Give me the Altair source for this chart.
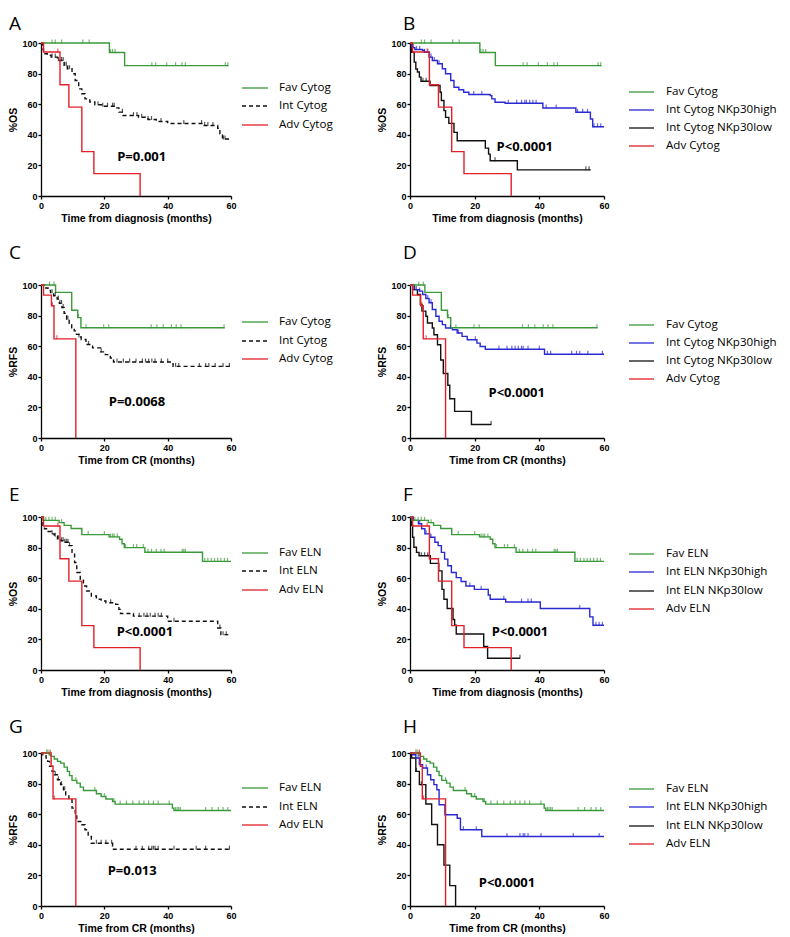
import altair as alt
import pandas as pd

# ---------------- data ----------------
# Overall survival, cytogenetic groups
FAV_CYT_OS_T = [0, 21.6, 26.4, 59.2]
FAV_CYT_OS_S = [100, 93.8, 85.2, 85.2]
FAV_CYT_OS_C = [3.5, 4.5, 6.5, 13.2, 15.2, 21.9, 22.6, 23.4, 35.0, 36.2, 39.7, 42.5, 44.5, 45.6, 58.2, 59.0]

ADV_OS_T = [0, 0.8, 6.0, 8.8, 12.9, 16.7, 31.3]
ADV_OS_S = [100, 94.1, 72.7, 58.1, 29.0, 14.6, 0]
ADV_OS_C = [5.3]

INT_CYT_OS_T = [0, 0.4, 0.8, 2.0, 3.2, 5.2, 7.3, 8.3, 9.8, 10.8, 11.9, 12.9, 13.9, 15.4, 17.0, 19.5,
                23.6, 24.6, 25.9, 30.8, 33.8, 36.4, 40.0, 51.2, 55.8, 56.5, 57.3, 60]
INT_CYT_OS_S = [100, 96, 93, 92, 90.8, 88.6, 85.4, 83.2, 79.9, 75.5, 70.0, 66.8, 63.5, 61.4, 59.6, 58.7,
                57.6, 54.8, 52.6, 51.5, 50.0, 48.7, 47.4, 46.1, 44.3, 40.6, 37.3, 37.3]
INT_CYT_OS_C = [3.5, 4.5, 5.5, 6.5, 7.0, 7.5, 8.0, 8.5, 9.0, 18.0, 19.5, 21.0, 22.6, 23.1, 25.7, 29.2,
                30.3, 31.8, 33.8, 34.9, 37.9, 45.1, 50.7, 51.7, 52.7, 54.3, 57.6, 58.1]

HIGH_CYT_OS_T = [0, 0.6, 1.5, 3.9, 4.4, 5.9, 6.9, 8.5, 10.0, 11.0, 12.6, 13.6, 15.1, 16.6, 18.2, 24.8,
                 25.3, 26.3, 29.4, 41.1, 51.3, 55.8, 56.5, 60]
HIGH_CYT_OS_S = [100, 97, 95.8, 95.2, 94, 90.8, 88.6, 86.4, 83.2, 79.9, 75.5, 71.1, 69.4, 67.8, 66.3, 65.6,
                 63.5, 61.3, 60.6, 57.5, 54.7, 50.3, 45.3, 45.3]
HIGH_CYT_OS_C = [1.0, 2.0, 3.0, 4.5, 5.5, 6.5, 7.5, 9.0, 19.7, 22.2, 30.4, 33.0, 34.5, 35.5, 36.0, 37.0,
                 38.0, 39.0, 42.1, 45.2, 51.8, 53.4, 54.9, 56.9, 58.0, 59.0]

LOW_CYT_OS_T = [0, 0.5, 1.3, 1.8, 2.3, 2.9, 3.4, 6.2, 9.3, 9.7, 10.5, 11.0, 12.0, 13.6, 14.6, 23.3,
                24.3, 24.8, 33.2, 55.9]
LOW_CYT_OS_S = [100, 94, 87.5, 83, 81, 77.7, 75, 72.2, 67.8, 62.4, 55.8, 51.4, 47.5, 41.6, 36.1, 31.3,
                27.4, 23, 17.1, 17.1]
LOW_CYT_OS_C = [4.0, 5.0, 26.3, 54.4, 55.4]

# Relapse-free survival, cytogenetic groups
FAV_CYT_RFS_T = [0, 4.6, 9.7, 11.6, 12.6, 58.0]
FAV_CYT_RFS_S = [100, 95.2, 83.5, 78.7, 72.1, 72.1]
FAV_CYT_RFS_C = [2.7, 4.1, 11.8, 14.2, 19.8, 21.4, 34.8, 36.6, 38.6, 41.2, 42.7, 44.2, 57.8]

ADV_CYT_RFS_T = [0, 0.8, 3.3, 4.1, 11.0]
ADV_CYT_RFS_S = [100, 93.4, 86.4, 64.8, 0]
ADV_CYT_RFS_C = [3.6, 5.0]

INT_CYT_RFS_T = [0, 1.5, 2.2, 3.0, 4.0, 5.1, 5.8, 6.6, 7.3, 8.1, 8.9, 9.7, 10.5, 11.2, 12.0, 12.7,
                 14.2, 16.3, 18.8, 20.3, 21.9, 22.9, 41.7, 60]
INT_CYT_RFS_S = [100, 98, 96.5, 95, 93, 90.8, 88, 85.3, 81.5, 77.6, 75, 72.1, 70, 67.7, 66, 64.4,
                 61.1, 58.9, 56.3, 54.5, 52.3, 49.7, 46.8, 46.8]
INT_CYT_RFS_C = [3.5, 4.5, 5.5, 6.0, 6.5, 7.0, 8.5, 12.0, 15.0, 19.0, 24.0, 26.0, 28.0, 30.0, 32.0,
                 33.0, 34.0, 35.0, 36.0, 38.0, 40.0, 42.5, 43.5, 50.0, 52.0, 53.0, 55.0, 57.5, 59.5]

HIGH_CYT_RFS_T = [0, 1.3, 2.9, 3.9, 4.9, 5.9, 6.9, 8.0, 9.0, 10.0, 11.0, 13.1, 14.6, 16.1, 17.7,
                  20.7, 21.7, 23.3, 41.6, 60]
HIGH_CYT_RFS_S = [100, 97, 96, 93.8, 91.2, 88.4, 84, 79.6, 76.3, 74.1, 71.9, 70.8, 68.6, 66.4, 64.2,
                  62, 59.8, 58, 54.7, 54.7]
HIGH_CYT_RFS_C = [2.0, 3.0, 5.5, 6.5, 12.5, 15.0, 20.2, 27.5, 30.0, 31.5, 32.5, 33.5, 34.5, 35.0,
                  36.5, 40.0, 42.5, 43.5, 50.0, 51.5, 52.5, 55.0, 59.5]

LOW_CYT_RFS_T = [0, 0.8, 2.3, 3.2, 3.7, 4.9, 5.4, 6.9, 7.4, 8.5, 9.5, 10.3, 11.7, 12.3, 13.8, 19.0, 25.1]
LOW_CYT_RFS_S = [100, 97, 93.8, 87.3, 82.9, 79.6, 75.2, 71.9, 67.5, 60.9, 51.0, 42.2, 34.5, 25.7,
                 17.4, 8.8, 8.8]
LOW_CYT_RFS_C = [1.5, 25.1]

# Overall survival, ELN groups
FAV_ELN_OS_T = [0, 0.6, 5.7, 7.3, 9.5, 12.9, 21.5, 24.8, 25.6, 26.3, 32.8, 51.0, 60]
FAV_ELN_OS_S = [100, 97.8, 96.3, 94.5, 92.5, 88.5, 87.0, 85.5, 82.5, 80.0, 77.0, 71.0, 71.0]
FAV_ELN_OS_C = [1.5, 2.5, 3.5, 4.5, 6.5, 14.9, 20.0, 22.0, 22.6, 23.1, 24.1, 26.7, 29.2, 30.2, 32.3,
                33.8, 34.9, 36.4, 37.9, 38.9, 44.6, 45.1, 45.6, 51.7, 52.7, 53.8, 54.8, 55.8, 56.8,
                57.9, 58.9]

INT_ELN_OS_T = [0, 0.6, 1.1, 2.0, 3.2, 4.2, 5.2, 6.2, 7.3, 8.8, 9.8, 10.6, 11.3, 12.4, 13.4, 14.4,
                15.9, 17.5, 19.0, 20.5, 23.6, 24.6, 25.1, 29.2, 40.0, 55.8, 56.8, 60]
INT_ELN_OS_S = [100, 94.5, 92.3, 90.5, 89.0, 87.5, 85.7, 84.5, 83.5, 81.3, 76.9, 70.3, 63.7, 59.3,
                54.9, 51.6, 48.4, 46.2, 45.1, 44.0, 42.9, 39.6, 36.9, 35.2, 31.9, 27.5, 23.1, 23.1]
INT_ELN_OS_C = [3.5, 4.5, 5.5, 6.5, 7.0, 7.5, 8.0, 8.5, 9.0, 22.0, 31.0, 32.5, 33.5, 34.5, 36.0,
                37.0, 38.0, 42.0, 56.5, 57.5, 58.5]

HIGH_ELN_OS_T = [0, 1.0, 2.6, 3.6, 4.6, 6.1, 7.7, 8.7, 9.7, 10.7, 11.7, 12.8, 14.3, 15.8, 17.3,
                 19.9, 24.2, 24.8, 29.6, 40.3, 55.6, 56.6, 60]
HIGH_ELN_OS_S = [100, 97.8, 95.6, 92.3, 89.0, 86.8, 83.5, 81.3, 76.9, 72.5, 68.1, 63.7, 60.4, 57.8,
                 54.9, 52.7, 49.0, 46.2, 44.4, 40.2, 34.7, 29.2, 29.2]
HIGH_ELN_OS_C = [3.0, 5.0, 6.5, 18.5, 22.0, 29.0, 34.5, 36.5, 37.5, 52.5, 57.5, 58.5, 59.5]

LOW_ELN_OS_T = [0, 0.5, 0.8, 1.2, 2.0, 2.8, 6.3, 8.9, 9.9, 10.5, 11.5, 13.3, 13.8, 14.3, 22.8, 24.0, 34.0]
LOW_ELN_OS_S = [100, 94.5, 86.8, 80.2, 76.9, 74.7, 69.7, 64.8, 52.7, 46.2, 40.2, 33.0, 29.2, 23.5,
                15.4, 7.7, 7.7]
LOW_ELN_OS_C = [3.5, 4.5, 5.5, 34.0]

# Relapse-free survival, ELN groups
FAV_ELN_RFS_T = [0, 2.6, 3.2, 4.2, 5.2, 6.2, 7.3, 8.3, 9.0, 9.8, 11.3, 12.4, 13.4, 17.5, 19.0, 20.5,
                 22.6, 23.4, 41.5, 42.0, 60]
FAV_ELN_RFS_S = [100, 98.9, 97.8, 96.1, 94.5, 93.4, 90.8, 88.0, 85.2, 82.1, 80.3, 77.7, 75.5, 73.4,
                 71.6, 69.9, 68.3, 66.6, 64.0, 62.4, 62.4]
FAV_ELN_RFS_C = [1.8, 2.2, 2.8, 11.0, 17.0, 20.0, 23.0, 25.0, 27.0, 29.0, 31.0, 32.5, 34.0, 35.5,
                 37.0, 40.5, 42.5, 43.0, 43.5, 44.0, 52.0, 54.0, 56.0, 57.5, 59.0]

ADV_ELN_RFS_T = [0, 3.2, 3.8, 11.0]
ADV_ELN_RFS_S = [100, 91.3, 70.0, 0]
ADV_ELN_RFS_C = [2.9, 4.2]

INT_ELN_RFS_T = [0, 0.6, 1.6, 2.1, 2.7, 3.5, 4.2, 5.2, 6.2, 7.1, 7.8, 8.8, 9.8, 10.8, 11.3, 12.9,
                 13.9, 14.9, 15.9, 22.6, 60]
INT_ELN_RFS_S = [100, 98.9, 96.7, 94.5, 91.3, 88.0, 85.8, 82.5, 79.3, 76.0, 72.7, 69.4, 64.0, 60.7,
                 55.2, 53.1, 49.8, 45.4, 41.0, 37.1, 37.1]
INT_ELN_RFS_C = [4.5, 5.5, 6.5, 7.5, 17.5, 19.0, 20.5, 22.3, 30.0, 32.0, 34.0, 35.0, 35.5, 36.0,
                 37.0, 42.0, 49.0, 52.0, 59.5]

HIGH_ELN_RFS_T = [0, 0.8, 1.8, 2.9, 3.9, 5.4, 6.4, 7.4, 8.3, 9.0, 10.8, 14.6, 15.6, 22.2, 60]
HIGH_ELN_RFS_S = [100, 98.9, 96.7, 92.4, 90.2, 85.8, 82.5, 79.3, 76.0, 66.2, 59.6, 57.4, 49.8, 45.4, 45.4]
HIGH_ELN_RFS_C = [2.5, 5.0, 16.5, 20.5, 30.0, 34.0, 35.0, 35.5, 36.5, 40.5, 50.5, 58.5]

LOW_ELN_RFS_T = [0, 0.5, 1.8, 2.9, 4.9, 6.7, 8.5, 10.5, 12.3, 14.1]
LOW_ELN_RFS_S = [100, 96.7, 88.0, 79.3, 66.7, 53.3, 40.0, 26.7, 13.3, 0]
LOW_ELN_RFS_C = [2.0, 3.5]

# ---------------- styling ----------------
GREEN, RED, BLUE, BLACK = "#3a9a3a", "#e2202a", "#2a2ad2", "#111111"
STYLE = {"fav": (GREEN, None), "int": (BLACK, [4, 3]), "high": (BLUE, None),
         "low": (BLACK, None), "adv": (RED, None)}

W_L, W_R, H = 190, 194, 153
X0_L, X0_R = 40, 409          # expected absolute left of plot areas (page px)
FONT_AX = "Liberation Sans"
FONT_TXT = "Open Sans"


def step_value(T, S, c):
    v = S[0]
    for t, s in zip(T, S):
        if t <= c:
            v = s
        else:
            break
    return v


def xenc(title):
    return alt.X("t:Q", scale=alt.Scale(domain=[0, 60], nice=False, zero=False),
                 axis=alt.Axis(title=title, values=[0, 20, 40, 60]))


def yenc(title):
    return alt.Y("s:Q", scale=alt.Scale(domain=[0, 100], nice=False),
                 axis=alt.Axis(title=title, values=[0, 20, 40, 60, 80, 100]))


def panel(letter, curves, legend, xtitle, ytitle, ptext, pxy, leg_y, right, off):
    W = W_R if right else W_L
    x0 = X0_R if right else X0_L
    ra, rb, tx = (628, 653, 665) if right else (241, 267, 278)
    layers = []
    for kind, T, S, C in curves:
        color, dash = STYLE[kind]
        kw = dict(interpolate="step-after", color=color, strokeWidth=1.4)
        if dash:
            kw["strokeDash"] = dash
        layers.append(alt.Chart(pd.DataFrame({"t": T, "s": S})).mark_line(**kw)
                      .encode(x=xenc(xtitle), y=yenc(ytitle)))
    for kind, T, S, C in curves:
        color, _ = STYLE[kind]
        cdf = pd.DataFrame({"t": C, "s": [step_value(T, S, c) for c in C]})
        layers.append(alt.Chart(cdf).mark_tick(orient="vertical", size=4, thickness=1.2,
                                               color=color, yOffset=-1.5)
                      .encode(x=xenc(xtitle), y=yenc(ytitle)))
    for (lab, kind), ly in zip(legend, leg_y):
        color, dash = STYLE[kind]
        ldf = pd.DataFrame({"label": [lab]})
        kw = dict(color=color, strokeWidth=1.3)
        if dash:
            kw["strokeDash"] = dash
        layers.append(alt.Chart(ldf).mark_rule(**kw).encode(
            x=alt.value(ra - x0), x2=alt.value(rb - x0), y=alt.value(ly)))
        layers.append(alt.Chart(ldf).mark_text(align="left", baseline="middle", font=FONT_TXT,
                                               fontSize=11.6, color="black").encode(
            x=alt.value(tx - x0), y=alt.value(ly), text="label:N"))
    pdf = pd.DataFrame({"t": [pxy[0]], "s": [pxy[1]], "label": [ptext]})
    layers.append(alt.Chart(pdf).mark_text(font=FONT_TXT, fontWeight="bold", fontSize=13,
                                           color="black")
                  .encode(x=xenc(xtitle), y=yenc(ytitle), text="label:N"))
    return alt.layer(*layers).properties(
        width=W, height=H,
        title=alt.TitleParams(letter, anchor="start", fontSize=19, font=FONT_TXT,
                              fontWeight="normal", color="black", offset=off,
                              dx=(25 if right else 0)))


DX = "Time from diagnosis (months)"
CR = "Time from CR (months)"
OFFS = [5, 18, 8, 12]

A = panel("A", [("int", INT_CYT_OS_T, INT_CYT_OS_S, INT_CYT_OS_C),
                ("fav", FAV_CYT_OS_T, FAV_CYT_OS_S, FAV_CYT_OS_C),
                ("adv", ADV_OS_T, ADV_OS_S, ADV_OS_C)],
          [("Fav Cytog", "fav"), ("Int Cytog", "int"), ("Adv Cytog", "adv")],
          DX, "%OS", "P=0.001", (31.8, 25.5), [45, 63, 82], False, OFFS[0])
B = panel("B", [("low", LOW_CYT_OS_T, LOW_CYT_OS_S, LOW_CYT_OS_C),
                ("high", HIGH_CYT_OS_T, HIGH_CYT_OS_S, HIGH_CYT_OS_C),
                ("fav", FAV_CYT_OS_T, FAV_CYT_OS_S, FAV_CYT_OS_C),
                ("adv", ADV_OS_T, ADV_OS_S, ADV_OS_C)],
          [("Fav Cytog", "fav"), ("Int Cytog NKp30high", "high"),
           ("Int Cytog NKp30low", "low"), ("Adv Cytog", "adv")],
          DX, "%OS", "P<0.0001", (35.5, 32), [49, 67, 85, 103], True, OFFS[0])
C = panel("C", [("int", INT_CYT_RFS_T, INT_CYT_RFS_S, INT_CYT_RFS_C),
                ("fav", FAV_CYT_RFS_T, FAV_CYT_RFS_S, FAV_CYT_RFS_C),
                ("adv", ADV_CYT_RFS_T, ADV_CYT_RFS_S, ADV_CYT_RFS_C)],
          [("Fav Cytog", "fav"), ("Int Cytog", "int"), ("Adv Cytog", "adv")],
          CR, "%RFS", "P=0.0068", (30.3, 23.7), [37, 56, 74], False, OFFS[1])
D = panel("D", [("low", LOW_CYT_RFS_T, LOW_CYT_RFS_S, LOW_CYT_RFS_C),
                ("high", HIGH_CYT_RFS_T, HIGH_CYT_RFS_S, HIGH_CYT_RFS_C),
                ("fav", FAV_CYT_RFS_T, FAV_CYT_RFS_S, FAV_CYT_RFS_C),
                ("adv", ADV_CYT_RFS_T, ADV_CYT_RFS_S, ADV_CYT_RFS_C)],
          [("Fav Cytog", "fav"), ("Int Cytog NKp30high", "high"),
           ("Int Cytog NKp30low", "low"), ("Adv Cytog", "adv")],
          CR, "%RFS", "P<0.0001", (33, 29.6), [40, 58, 76, 94], True, OFFS[1])
E = panel("E", [("int", INT_ELN_OS_T, INT_ELN_OS_S, INT_ELN_OS_C),
                ("fav", FAV_ELN_OS_T, FAV_ELN_OS_S, FAV_ELN_OS_C),
                ("adv", ADV_OS_T, ADV_OS_S, ADV_OS_C)],
          [("Fav ELN", "fav"), ("Int ELN", "int"), ("Adv ELN", "adv")],
          DX, "%OS", "P<0.0001", (32.8, 25), [36, 54, 73], False, OFFS[2])
F = panel("F", [("low", LOW_ELN_OS_T, LOW_ELN_OS_S, LOW_ELN_OS_C),
                ("high", HIGH_ELN_OS_T, HIGH_ELN_OS_S, HIGH_ELN_OS_C),
                ("fav", FAV_ELN_OS_T, FAV_ELN_OS_S, FAV_ELN_OS_C),
                ("adv", ADV_OS_T, ADV_OS_S, ADV_OS_C)],
          [("Fav ELN", "fav"), ("Int ELN NKp30high", "high"),
           ("Int ELN NKp30low", "low"), ("Adv ELN", "adv")],
          DX, "%OS", "P<0.0001", (34, 25), [37, 55, 74, 92], True, OFFS[2])
G = panel("G", [("int", INT_ELN_RFS_T, INT_ELN_RFS_S, INT_ELN_RFS_C),
                ("fav", FAV_ELN_RFS_T, FAV_ELN_RFS_S, FAV_ELN_RFS_C),
                ("adv", ADV_ELN_RFS_T, ADV_ELN_RFS_S, ADV_ELN_RFS_C)],
          [("Fav ELN", "fav"), ("Int ELN", "int"), ("Adv ELN", "adv")],
          CR, "%RFS", "P=0.013", (28.8, 22.9), [35, 54, 72], False, OFFS[3])
Hh = panel("H", [("low", LOW_ELN_RFS_T, LOW_ELN_RFS_S, LOW_ELN_RFS_C),
                 ("high", HIGH_ELN_RFS_T, HIGH_ELN_RFS_S, HIGH_ELN_RFS_C),
                 ("fav", FAV_ELN_RFS_T, FAV_ELN_RFS_S, FAV_ELN_RFS_C),
                 ("adv", ADV_ELN_RFS_T, ADV_ELN_RFS_S, ADV_ELN_RFS_C)],
           [("Fav ELN", "fav"), ("Int ELN NKp30high", "high"),
            ("Int ELN NKp30low", "low"), ("Adv ELN", "adv")],
           CR, "%RFS", "P<0.0001", (30, 15), [36, 54, 73, 91], True, OFFS[3])

left = alt.vconcat(A, C, E, G, spacing=20)
right = alt.vconcat(B, D, F, Hh, spacing=20)

chart = (alt.hconcat(left, right, spacing=44)
         .properties(padding={"left": 0, "top": 7, "right": 0, "bottom": 0})
         .configure_view(stroke=None)
         .configure_axis(grid=False, domainColor="black", domainWidth=1.3, tickColor="black",
                         tickWidth=1.3, tickSize=3, labelFont=FONT_AX, labelFontSize=9,
                         labelFontWeight="bold", labelColor="black", labelPadding=1,
                         titleFont=FONT_AX, titleFontSize=10.5, titleFontWeight="bold",
                         titleColor="black", titlePadding=3)
         .configure_axisX(labelFlush=False, labelPadding=2)
         .configure_title(anchor="start"))

chart.save("out.html", embed_options={"renderer": "svg", "actions": False})
